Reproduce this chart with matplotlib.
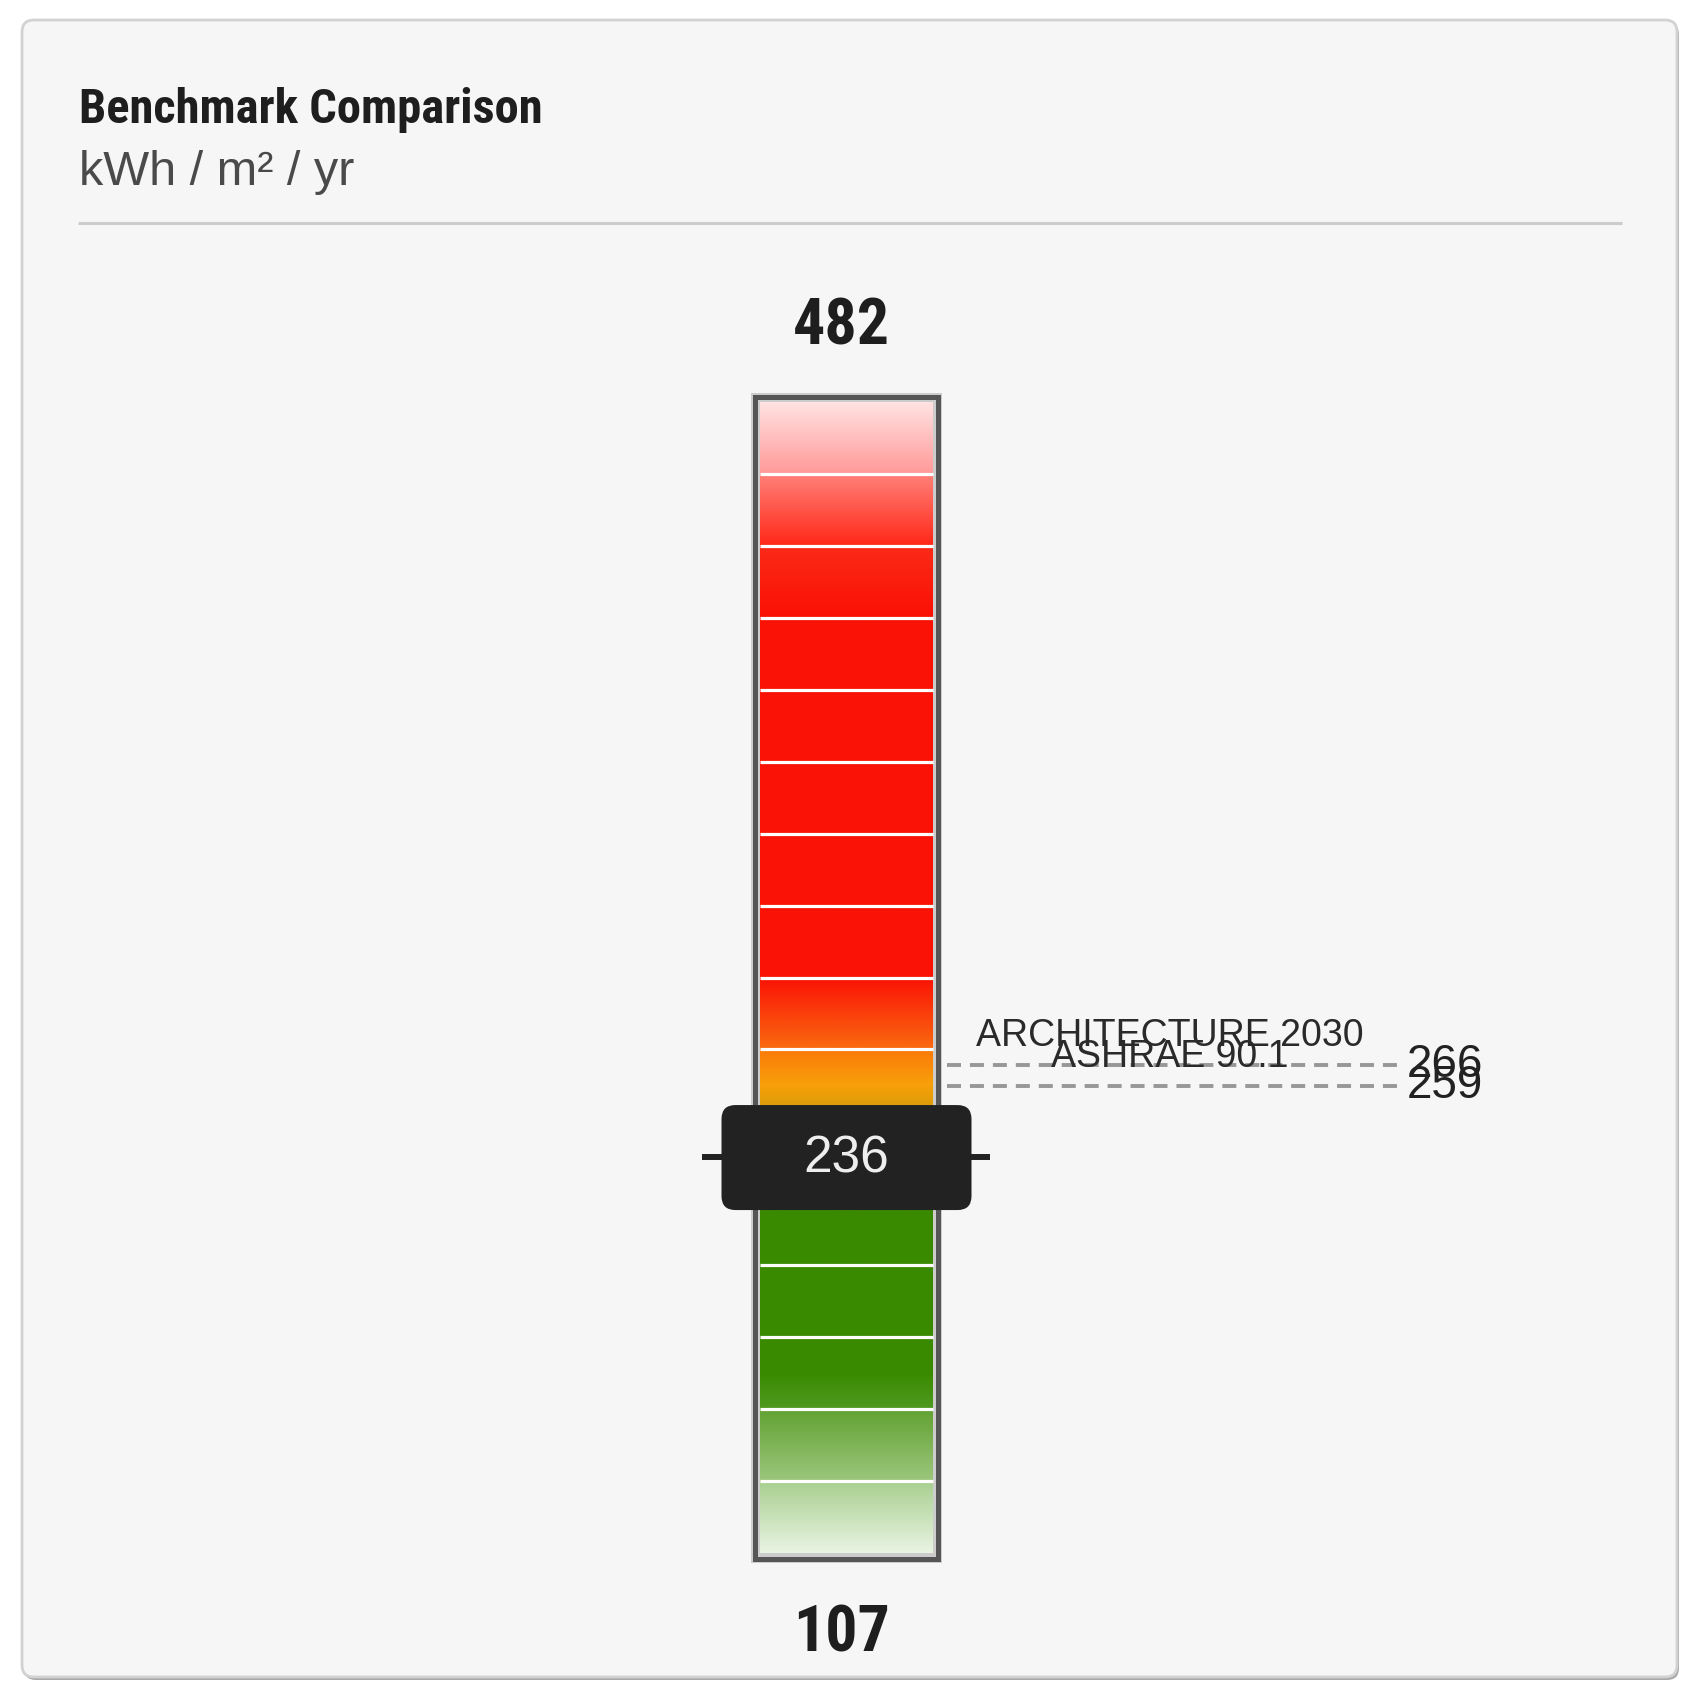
import matplotlib
matplotlib.use("Agg")
import matplotlib.pyplot as plt
import numpy as np
from matplotlib.patches import FancyBboxPatch, Rectangle
from matplotlib.colors import LinearSegmentedColormap
from matplotlib import font_manager

###data
title = "Benchmark Comparison"
unit = "kWh / m² / yr"
scale_min = 107
scale_max = 482
current_value = 236
bench_names = ["ARCHITECTURE 2030", "ASHRAE 90.1"]
bench_values = [266, 259]

###segment colour stops, top to bottom
seg_colors = [
    ["#ffe2e2", "#ff9a98"],
    ["#ff8078", "#ff2818"],
    ["#fb2a18", "#fa1005"],
    ["#fa1205", "#fa1205"],
    ["#fa1205", "#fa1205"],
    ["#fa1205", "#fa1205"],
    ["#fa1205", "#fa1205"],
    ["#fa1205", "#fa1205"],
    ["#fa1205", "#fa6a10"],
    ["#fb7a0a", "#f8a00a", "#c89a08"],
    ["#a89a08", "#3a8a00"],
    ["#3a8a00", "#3a8a00"],
    ["#3a8a00", "#3a8a00"],
    ["#3a8a00", "#3a8a00", "#4f9a20"],
    ["#62a232", "#9cc67c"],
    ["#a8cf90", "#e9f4e2"],
]

###pick a condensed family that really has a bold face
cands = ["Roboto Condensed", "Fira Sans Condensed", "IBM Plex Sans Condensed",
         "Barlow Condensed", "Archivo Narrow", "Encode Sans Condensed"]
bold_fams = {f.name for f in font_manager.fontManager.ttflist
             if (f.weight if isinstance(f.weight, int) else 400) >= 600
             or str(f.weight) in ("bold", "semibold", "demibold", "heavy", "black")}
narrow = next((c for c in cands if c in bold_fams), "DejaVu Sans")
NARROW = [narrow, "DejaVu Sans"]
SANS = ["Liberation Sans", "DejaVu Sans"]

W, H = 1698, 1707
BAR_L, BAR_R, BAR_T, BAR_B = 760, 933, 402, 1553
AX_R = 1520

fig = plt.figure(figsize=(W / 100, H / 100), dpi=100)
fig.patch.set_facecolor("white")

bg = fig.add_axes([0, 0, 1, 1])
bg.set_xlim(0, W)
bg.set_ylim(H, 0)
bg.axis("off")

# card + shadow
bg.add_patch(FancyBboxPatch((24, 23), 1655, 1657, boxstyle="round,pad=0,rounding_size=12",
                            fc="#a8a8a8", ec="none", zorder=0))
bg.add_patch(FancyBboxPatch((22, 20), 1655, 1657, boxstyle="round,pad=0,rounding_size=12",
                            fc="#f6f6f6", ec="#d2d2d2", lw=2, zorder=1))

bg.text(79, 123, title, fontsize=35, fontweight="bold", color="#1e1e1e",
        family=NARROW, va="baseline", zorder=3)
bg.text(79, 185, unit, fontsize=35, color="#4a4a4a", family=SANS,
        va="baseline", zorder=3)
bg.plot([78, 1622], [223, 223], color="#cccccc", lw=2.2, zorder=2, solid_capstyle="butt")

# frame around bar
bg.add_patch(Rectangle((BAR_L - 9, BAR_T - 9), BAR_R - BAR_L + 18, BAR_B - BAR_T + 19,
                       fc="#cccccc", ec="none", zorder=2))
bg.add_patch(Rectangle((BAR_L - 5, BAR_T - 5), BAR_R - BAR_L + 10, BAR_B - BAR_T + 11,
                       fc="none", ec="#555555", lw=3.6, zorder=3))

###bar axes: y in data units, x in pixels
ax = fig.add_axes([BAR_L / W, 1 - BAR_B / H, (AX_R - BAR_L) / W, (BAR_B - BAR_T) / H])
ax.patch.set_alpha(0)
ax.axis("off")
ax.set_zorder(4)

bar_w = BAR_R - BAR_L
edges = np.linspace(scale_max, scale_min, len(seg_colors) + 1)
for i, stops in enumerate(seg_colors):
    cmap = LinearSegmentedColormap.from_list("s%d" % i, stops)
    grad = np.linspace(0, 1, 64).reshape(-1, 1)
    ax.imshow(grad, cmap=cmap, aspect="auto", extent=(0, bar_w, edges[i + 1], edges[i]),
              origin="upper", interpolation="bilinear")
ax.hlines(edges[1:-1], 0, bar_w, color="white", lw=2.3)
ax.set_xlim(0, AX_R - BAR_L)
ax.set_ylim(scale_min, scale_max)

# benchmark lines
ax.hlines(bench_values, 187, 637, color="#979797", lw=2.8, linestyles=[(0, (3.6, 2.3))])
for name, val in zip(bench_names, bench_values):
    ax.annotate(name, (410, val), xytext=(0, 14), textcoords="offset points",
                ha="center", va="baseline", fontsize=27, color="#2a2a2a", family=SANS)
    ax.text(647, val, str(val), ha="left", va="center", fontsize=33, color="#222222",
            family=SANS)

# min / max
ax.annotate(str(scale_max), (bar_w / 2 - 5, scale_max), xytext=(0, 54), textcoords="offset points",
            ha="center", va="center", fontsize=46, fontweight="bold", color="#1e1e1e",
            family=NARROW, annotation_clip=False)
ax.annotate(str(scale_min), (bar_w / 2 - 5, scale_min), xytext=(0, -58), textcoords="offset points",
            ha="center", va="center", fontsize=46, fontweight="bold", color="#1e1e1e",
            family=NARROW, annotation_clip=False)

###marker for current value
ov = fig.add_axes([0, 0, 1, 1])
ov.set_xlim(0, W)
ov.set_ylim(H, 0)
ov.axis("off")
ov.set_zorder(5)
y_disp = ax.transData.transform((0, current_value))[1]
y_px = H - y_disp
cx = (BAR_L + BAR_R) / 2
ov.plot([cx - 144, cx + 144], [y_px, y_px], color="#222222", lw=4.3, solid_capstyle="butt")
ov.add_patch(FancyBboxPatch((cx - 125, y_px - 52), 250, 105,
                            boxstyle="round,pad=0,rounding_size=14", fc="#222222", ec="none"))
ov.text(cx, y_px + 2, str(current_value), ha="center", va="center", fontsize=37,
        color="#eeeeee", family=SANS)

fig.savefig("out.png", dpi=100, facecolor="white")
